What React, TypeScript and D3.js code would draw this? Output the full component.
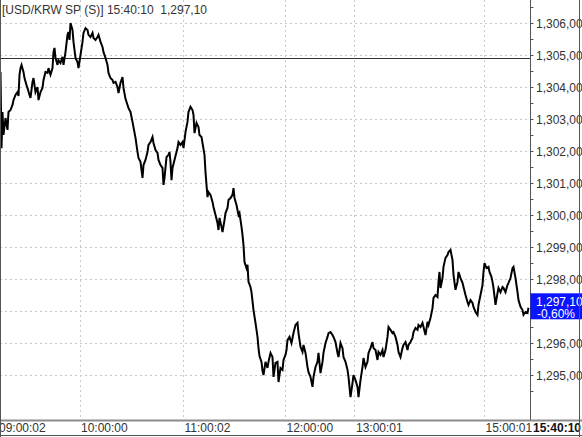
import React from 'react';
import * as d3 from 'd3';

const titleSymbol = '[USD/KRW SP (S)]';
const titleTime = '15:40:10';
const lastPrice = 1297.1;
const changePct = '-0,60%';
const prevClose = 1304.9;
const priceTicks = [1295, 1296, 1297, 1298, 1299, 1300, 1301, 1302, 1303, 1304, 1305, 1306];
const minorTicks = d3.range(1294.5, 1306.51, 0.5);
const timeLabels = ['09:00:02', '10:00:00', '11:00:02', '12:00:00', '13:00:01', '15:00:01'];
const timeSeq = [0, 79, 182.5, 284.5, 354, 483.5];
const lastTime = '15:40:10';

// [tick sequence number, price]
const series: [number, number][] = [
  [0, 1304.47], [1, 1302.09], [2, 1303.22], [3, 1302.5], [5, 1303.03], [7, 1302.66], [8, 1303.22], [10, 1303.28],
  [12, 1303.44], [13, 1303.59], [15, 1303.75], [17, 1303.84], [18, 1303.72], [19, 1304.38], [20, 1304.59], [21, 1304.69],
  [23, 1304.47], [24, 1304.28], [26, 1304.06], [27, 1303.97], [29, 1303.75], [30, 1303.66], [32, 1304.16], [33, 1304.28],
  [35, 1303.84], [37, 1304.0], [38, 1303.59], [40, 1303.84], [42, 1303.97], [43, 1304.22], [45, 1304.47], [47, 1304.44],
  [48, 1304.59], [50, 1304.38], [52, 1304.59], [53, 1305.09], [54, 1305.22], [55, 1304.91], [57, 1304.69], [58, 1304.84],
  [60, 1304.75], [62, 1304.94], [63, 1304.69], [65, 1305.09], [67, 1305.63], [68, 1305.72], [69, 1305.47], [70, 1306.0],
  [72, 1305.78], [73, 1305.41], [75, 1304.91], [77, 1304.78], [78, 1304.59], [80, 1305.0], [82, 1305.41], [83, 1305.69],
  [85, 1305.84], [87, 1305.78], [88, 1305.63], [90, 1305.56], [92, 1305.69], [93, 1305.53], [95, 1305.47], [97, 1305.56],
  [98, 1305.63], [100, 1305.41], [102, 1305.25], [103, 1305.09], [105, 1304.91], [107, 1304.69], [108, 1304.44], [110, 1304.28],
  [112, 1304.22], [113, 1304.13], [115, 1304.16], [117, 1304.0], [118, 1303.81], [120, 1304.13], [122, 1304.31], [123, 1303.97],
  [125, 1303.63], [128, 1303.34], [130, 1303.22], [132, 1302.91], [135, 1302.41], [137, 1301.97], [138, 1301.78], [140, 1301.66],
  [142, 1301.16], [143, 1301.56], [145, 1301.72], [147, 1301.97], [148, 1302.19], [150, 1302.28], [152, 1302.44], [153, 1302.25],
  [155, 1302.03], [157, 1301.94], [158, 1301.72], [160, 1301.56], [162, 1301.47], [163, 1300.94], [164, 1301.16], [166, 1301.81],
  [168, 1301.88], [169, 1301.97], [170, 1301.66], [171, 1301.09], [172, 1301.47], [174, 1301.72], [177, 1302.09], [178, 1302.28],
  [180, 1302.19], [182, 1302.28], [183, 1302.09], [185, 1302.59], [187, 1302.91], [188, 1303.22], [190, 1303.38], [192, 1303.28],
  [193, 1303.13], [194, 1302.56], [196, 1302.88], [198, 1302.75], [199, 1302.5], [201, 1302.44], [202, 1302.25], [204, 1301.88],
  [205, 1301.34], [206, 1300.94], [207, 1300.56], [208, 1300.72], [210, 1300.63], [212, 1300.41], [213, 1300.25], [215, 1300.0],
  [217, 1299.75], [218, 1299.53], [219, 1299.91], [221, 1299.63], [222, 1299.47], [224, 1299.84], [225, 1300.06], [227, 1300.22],
  [228, 1300.47], [230, 1300.53], [232, 1300.63], [233, 1300.84], [234, 1300.53], [236, 1300.31], [238, 1300.0], [239, 1300.06],
  [241, 1299.63], [242, 1299.38], [243, 1299.06], [244, 1298.53], [246, 1298.34], [247, 1298.44], [248, 1297.91], [250, 1297.75],
  [251, 1297.59], [253, 1297.03], [255, 1296.63], [257, 1296.19], [258, 1295.84], [259, 1295.59], [261, 1295.41], [262, 1295.13],
  [263, 1295.0], [265, 1295.41], [267, 1295.22], [268, 1295.41], [270, 1295.69], [272, 1295.56], [273, 1294.94], [275, 1295.38],
  [277, 1295.41], [278, 1294.78], [280, 1295.22], [282, 1295.16], [283, 1295.47], [285, 1295.63], [286, 1295.78], [287, 1296.09],
  [289, 1296.19], [291, 1296.0], [293, 1296.31], [295, 1296.56], [297, 1296.63], [298, 1296.31], [300, 1295.88], [302, 1295.72],
  [303, 1295.94], [305, 1295.69], [307, 1295.25], [308, 1295.09], [310, 1294.94], [312, 1294.63], [313, 1294.94], [315, 1295.25],
  [317, 1295.41], [318, 1295.69], [320, 1295.06], [322, 1295.41], [323, 1295.69], [325, 1296.0], [327, 1296.19], [328, 1296.31],
  [330, 1296.34], [332, 1296.25], [333, 1296.19], [335, 1296.03], [337, 1295.69], [338, 1295.56], [340, 1296.0], [342, 1295.84],
  [343, 1295.56], [345, 1295.41], [347, 1295.16], [348, 1294.94], [350, 1294.31], [352, 1294.75], [353, 1295.0], [355, 1294.84],
  [357, 1294.63], [358, 1294.31], [360, 1294.84], [362, 1295.25], [363, 1295.53], [365, 1295.25], [367, 1295.41], [368, 1295.69],
  [370, 1295.84], [372, 1296.03], [373, 1295.84], [375, 1295.78], [377, 1295.47], [378, 1295.72], [380, 1295.63], [382, 1295.78],
  [383, 1295.56], [385, 1295.78], [387, 1296.19], [388, 1296.5], [390, 1296.41], [392, 1296.31], [393, 1296.34], [395, 1296.19],
  [397, 1295.94], [398, 1295.72], [400, 1295.56], [402, 1295.84], [403, 1295.94], [405, 1296.03], [407, 1295.78], [408, 1295.94],
  [410, 1296.03], [412, 1296.16], [413, 1296.34], [415, 1296.47], [417, 1296.41], [418, 1296.56], [420, 1296.5], [422, 1296.63],
  [423, 1296.5], [425, 1296.25], [427, 1296.66], [428, 1296.56], [430, 1296.78], [432, 1297.09], [433, 1297.41], [435, 1297.5],
  [437, 1297.44], [438, 1297.91], [439, 1298.22], [440, 1297.72], [442, 1298.03], [443, 1298.38], [445, 1298.66], [447, 1298.75],
  [448, 1298.84], [450, 1298.91], [452, 1298.59], [453, 1298.13], [455, 1297.66], [457, 1297.91], [458, 1298.22], [460, 1298.03],
  [462, 1297.88], [463, 1297.75], [465, 1297.5], [467, 1297.28], [468, 1297.19], [470, 1297.34], [472, 1297.25], [473, 1297.13],
  [475, 1296.97], [477, 1296.88], [478, 1297.19], [480, 1297.5], [482, 1297.81], [483, 1298.22], [484, 1298.5], [486, 1298.34],
  [488, 1298.38], [489, 1298.22], [491, 1298.06], [492, 1297.91], [493, 1297.72], [495, 1297.19], [497, 1297.56], [498, 1297.72],
  [500, 1297.59], [502, 1297.75], [503, 1297.72], [505, 1297.59], [507, 1297.81], [508, 1297.88], [510, 1298.03], [512, 1298.34],
  [513, 1298.38], [515, 1298.03], [517, 1297.59], [518, 1297.34], [520, 1297.13], [522, 1297.03], [523, 1296.88], [525, 1296.97],
  [527, 1296.94], [528, 1297.1],
];

const W = 582;
const H = 437;
const plotRight = 530.5;
const axisY = 420.5;
const font = 'Arial, "Liberation Sans", sans-serif';

const fmtPrice = (v: number) => d3.format(',.2f')(v).replace('.', ',');

export default function App() {
  const x = d3.scaleLinear().domain([0, 530]).range([0.5, 530.5]);
  const y = d3.scaleLinear().domain([1295, 1306]).range([375, 23]);
  const line = d3
    .line<[number, number]>()
    .x((d) => x(d[0]))
    .y((d) => y(d[1]));

  const lastY = y(lastPrice);

  return (
    <svg
      width={W}
      height={H}
      style={{ position: 'absolute', left: 0, top: 0, background: '#fff' }}
      fontFamily={font}
    >
      <rect x={0} y={0} width={W} height={H} fill="#fff" />
      {/* horizontal grid */}
      {priceTicks.map((t) => (
        <line key={'hg' + t} x1={0} x2={plotRight} y1={Math.round(y(t)) + 0.5} y2={Math.round(y(t)) + 0.5}
          stroke="#c8c8c8" strokeDasharray="2,3" />
      ))}
      {/* vertical grid */}
      {timeSeq.slice(1).map((s, i) => (
        <line key={'vg' + i} x1={Math.round(x(s)) + 0.5} x2={Math.round(x(s)) + 0.5} y1={0} y2={axisY}
          stroke="#c8c8c8" strokeDasharray="2,3" />
      ))}
      {/* previous close reference */}
      <line x1={0} x2={plotRight} y1={Math.round(y(prevClose)) + 0.5} y2={Math.round(y(prevClose)) + 0.5}
        stroke="#333" strokeWidth={1} />
      {/* price line */}
      <path d={line(series) || ''} fill="none" stroke="#000" strokeWidth={2} strokeLinejoin="miter" />
      {/* title */}
      <text x={2} y={14} fontSize={12} fill="#333" style={{ whiteSpace: 'pre' }}>
        {titleSymbol + ' ' + titleTime + '  ' + fmtPrice(lastPrice)}
      </text>
      {/* right axis */}
      <line x1={plotRight} x2={plotRight} y1={0} y2={axisY} stroke="#555" />
      {minorTicks.map((t) => (
        <line key={'mt' + t} x1={plotRight} x2={plotRight + 3} y1={Math.round(y(t)) + 0.5} y2={Math.round(y(t)) + 0.5}
          stroke="#555" />
      ))}
      {priceTicks.filter((t) => t !== Math.floor(lastPrice)).map((t) => (
        <text key={'pl' + t} x={536} y={y(t) + 4.5} fontSize={12} fill="#333">
          {fmtPrice(t)}
        </text>
      ))}
      {/* last price box */}
      <rect x={plotRight} y={lastY - 14.5} width={W - plotRight} height={26} fill="#0a14ff" />
      <text x={536} y={lastY - 2} fontSize={12} fill="#fff">{fmtPrice(lastPrice)}</text>
      <text x={537} y={lastY + 10.5} fontSize={12} fill="#fff">{changePct}</text>
      {/* bottom axis */}
      <line x1={0} x2={W} y1={axisY} y2={axisY} stroke="#8c8c8c" strokeWidth={2} />
      {timeLabels.map((l, i) => (
        <text key={'tl' + i} x={i === 0 ? -1 : x(timeSeq[i]) + 1.5} y={432} fontSize={12} fill="#333">
          {l}
        </text>
      ))}
      <text x={533} y={432} fontSize={12} fontWeight="bold" fill="#111">{lastTime}</text>
      {/* frame */}
      <line x1={0.5} x2={0.5} y1={0} y2={H} stroke="#555" />
      <line x1={579.5} x2={579.5} y1={0} y2={H} stroke="#555" />
      <line x1={0} x2={W} y1={435.5} y2={435.5} stroke="#555" />
    </svg>
  );
}
